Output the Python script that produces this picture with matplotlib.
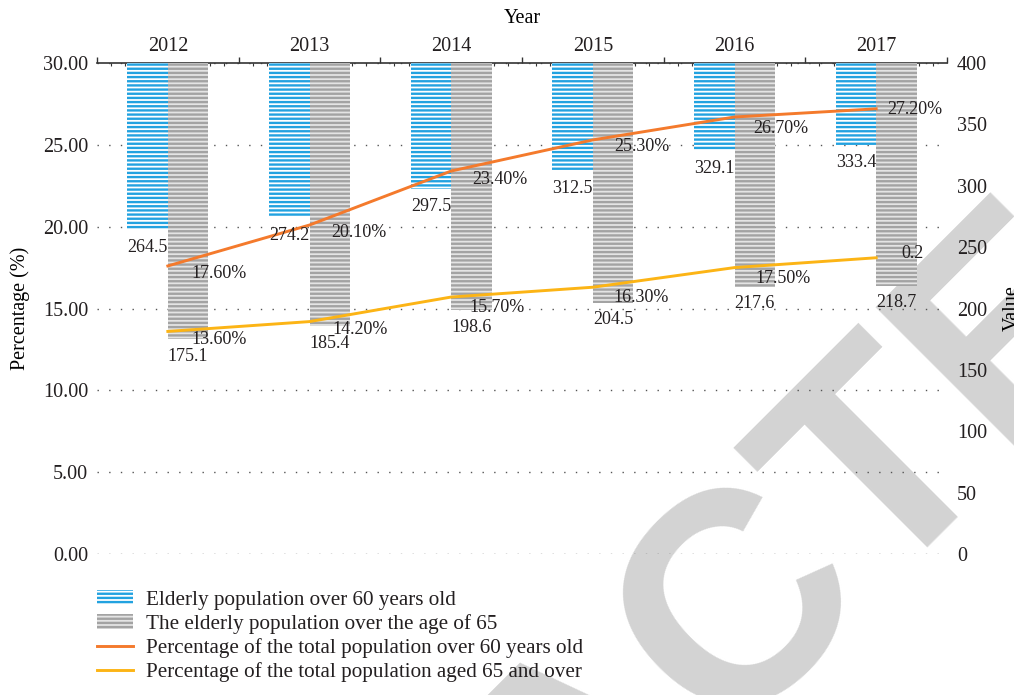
import numpy as np
import matplotlib
matplotlib.use("Agg")
import matplotlib.pyplot as plt

# Data
years = ["2012", "2013", "2014", "2015", "2016", "2017"]
pop_over_60 = [264.5, 274.2, 297.5, 312.5, 329.1, 333.4]
pop_over_65 = [175.1, 185.4, 198.6, 204.5, 217.6, 218.7]
pct_over_60 = [17.6, 20.1, 23.4, 25.3, 26.7, 27.2]
pct_over_65 = [13.6, 14.2, 15.7, 16.3, 17.5, 18.1]
pct_over_65_text = ["13.60%", "14.20%", "15.70%", "16.30%", "17.50%", "0.2"]

# label offsets (pixels, right/down) for the percentage labels
off_60 = [(24, 8), (22, 7), (21, 8), (21, 7), (19, 11), (11, 1)]
off_65 = [(24, 8), (23, 8), (18, 10), (21, 10), (21, 11), (25, -4)]

BLUE = "#22a2e0"
GRAY = "#a3a3a3"
ORANGE = "#f47a2c"
YELLOW = "#fcb415"
TXT = "#231f20"

plt.rcParams["font.family"] = ["Liberation Serif", "DejaVu Serif"]
plt.rcParams["text.color"] = TXT
plt.rcParams["hatch.linewidth"] = 1.7

W, H = 1014, 695
fig = plt.figure(figsize=(W / 100, H / 100), dpi=100)
ax = fig.add_axes([97 / W, 1 - 554 / H, 850 / W, 491 / H])
ax2 = ax.twinx()

px = 0.72  # points per pixel

# watermark behind everything
fig.text(-10 / W, 1 - 1466 / H, "RETRACTED", rotation=45, rotation_mode="anchor",
         ha="left", va="baseline", fontsize=216, fontweight="bold",
         family="Liberation Sans", color="#d3d3d3", zorder=-1)
ax.patch.set_visible(False)

x = np.arange(len(years))
bw = 0.285

ax.set_xlim(-0.5, len(years) - 0.5)
ax.set_ylim(0, 30)
ax2.set_ylim(0, 400)
top = ax2.get_ylim()[1]

# bars hang from the top of the value axis down to their value
b1 = ax2.bar(x - bw / 2, [top - v for v in pop_over_60], bottom=pop_over_60,
             width=bw, facecolor="white", edgecolor=BLUE, linewidth=0,
             hatch="----", zorder=2, label="Elderly population over 60 years old")
b2 = ax2.bar(x + bw / 2, [top - v for v in pop_over_65], bottom=pop_over_65,
             width=bw, facecolor="#e4e4e4", edgecolor=GRAY, linewidth=0,
             hatch="----", zorder=2, label="The elderly population over the age of 65")

l1, = ax2.plot(x, pct_over_60, color=ORANGE, lw=2.1, transform=ax.transData,
               zorder=3, label="Percentage of the total population over 60 years old")
l2, = ax2.plot(x, pct_over_65, color=YELLOW, lw=2.1, transform=ax.transData,
               zorder=3, label="Percentage of the total population aged 65 and over")

for i in range(len(years)):
    ax2.annotate(f"{pop_over_60[i]}", (x[i] - bw / 2, pop_over_60[i]),
                 xytext=(0, -18 * px), textcoords="offset points",
                 ha="center", va="center", fontsize=13, zorder=4)
    ax2.annotate(f"{pop_over_65[i]}", (x[i] + bw / 2, pop_over_65[i]),
                 xytext=(0, -17 * px), textcoords="offset points",
                 ha="center", va="center", fontsize=13, zorder=4)
    ax2.annotate(f"{pct_over_60[i]:.2f}%", (x[i], pct_over_60[i]), xycoords=ax.transData,
                 xytext=(off_60[i][0] * px, -off_60[i][1] * px), textcoords="offset points",
                 ha="left", va="center", fontsize=13, zorder=4)
    ax2.annotate(pct_over_65_text[i], (x[i], pct_over_65[i]), xycoords=ax.transData,
                 xytext=(off_65[i][0] * px, -off_65[i][1] * px), textcoords="offset points",
                 ha="left", va="center", fontsize=13, zorder=4)

# grid on the percentage axis
ax.set_yticks(np.arange(0, 31, 5))
ax.set_yticklabels([f"{v:.2f}" for v in np.arange(0, 31, 5)])
ax.grid(axis="y", color="#555555", linestyle=(0, (1, 7.4)), linewidth=1.0)
ax.tick_params(axis="y", length=0, pad=9 * px, labelsize=14.5, colors=TXT)
ax.set_ylabel("Percentage (%)", fontsize=14.5, labelpad=9)

ax2.set_yticks(np.arange(0, 401, 50))
ax2.tick_params(axis="y", length=0, pad=10 * px, labelsize=14.5, colors=TXT)
ax2.set_ylabel("Value", fontsize=14.5, labelpad=11)

# top category axis with boundary ticks
ax.xaxis.tick_top()
ax.set_xticks(np.arange(-0.5, len(years), 1.0))
ax.set_xticklabels([])
ax.set_xticks(np.arange(-0.5, len(years) - 0.45, 0.1), minor=True)
ax.tick_params(axis="x", which="major", direction="out", length=6 * px,
               width=1.0, color="#333333")
ax.tick_params(axis="x", which="minor", direction="in", length=3 * px,
               width=0.8, color="#333333")

sec = ax.secondary_xaxis("top")
sec.set_xticks(x)
sec.set_xticklabels(years)
sec.tick_params(length=0, pad=5, labelsize=14.5, colors=TXT)
sec.spines["top"].set_visible(False)
sec.set_xlabel("Year", fontsize=14.5, labelpad=10)

for s in ["left", "right", "bottom"]:
    ax.spines[s].set_visible(False)
ax.spines["top"].set_color("#333333")
ax.spines["top"].set_linewidth(1.2)
for s in ax2.spines.values():
    s.set_visible(False)

fig.legend(handles=[b1, b2, l1, l2], loc="upper left",
           bbox_to_anchor=(97 / W, 1 - 590 / H), frameon=False, fontsize=15.2,
           borderaxespad=0, borderpad=0, handlelength=1.7, handletextpad=0.6,
           labelspacing=0.2)

fig.savefig("out.png", dpi=100)
